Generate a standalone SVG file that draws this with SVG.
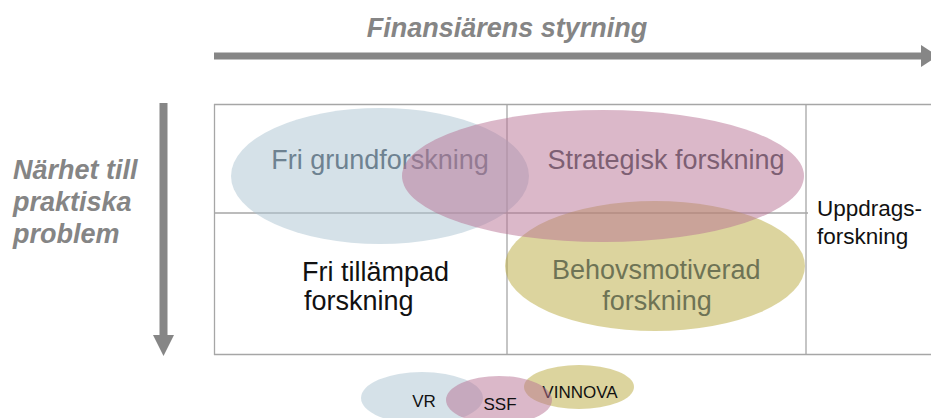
<svg xmlns="http://www.w3.org/2000/svg" width="931" height="418" viewBox="0 0 931 418">
  <style>
    .axis { fill: #868686; }
    .axislabel { font-family: "Liberation Sans", Arial, sans-serif; font-weight: bold; font-style: italic; fill: #858585; }
    .grid { stroke: #a6a6a6; stroke-width: 1.3; fill: none; }
    .blob { fill-opacity: 0.5; }
    .blue { fill: #abc3d1; }
    .pink { fill: #b77193; }
    .yellow { fill: #b9a93d; }
    .big { font-family: "Liberation Sans", Arial, sans-serif; font-size: 27px; }
    .mid { font-family: "Liberation Sans", Arial, sans-serif; font-size: 22.5px; fill: #111; }
    .small { font-family: "Liberation Sans", Arial, sans-serif; font-size: 17px; fill: #111; text-anchor: middle; }
  </style>

  <!-- axes -->
  <g id="axis-x">
    <rect class="axis" x="214" y="52.5" width="708" height="7"/>
    <polygon class="axis" points="921,45 938,56 921,67"/>
    <text class="axislabel" x="507" y="37" font-size="27" text-anchor="middle">Finansiärens styrning</text>
  </g>
  <g id="axis-y">
    <rect class="axis" x="159.5" y="103" width="8" height="233"/>
    <polygon class="axis" points="153,335 174,335 163.5,356"/>
    <text class="axislabel" font-size="27">
      <tspan x="13" y="179">Närhet till</tspan>
      <tspan x="13" y="211">praktiska</tspan>
      <tspan x="13" y="243">problem</tspan>
    </text>
  </g>

  <!-- matrix grid -->
  <g id="grid">
    <line class="grid" x1="214" y1="104.5" x2="931" y2="104.5"/>
    <line class="grid" x1="214" y1="354.5" x2="931" y2="354.5"/>
    <line class="grid" x1="214.5" y1="104" x2="214.5" y2="355"/>
    <line class="grid" x1="507" y1="104" x2="507" y2="355"/>
    <line class="grid" x1="806" y1="104" x2="806" y2="355"/>
    <line class="grid" x1="214" y1="213" x2="808" y2="213"/>
  </g>

  <g id="fri-grundforskning">
    <ellipse class="blob blue" cx="380" cy="176" rx="149" ry="68"/>
    <text class="big" x="380" y="169" text-anchor="middle" fill="#6e8291">Fri grundforskning</text>
  </g>

  <g id="behovsmotiverad-forskning">
    <ellipse class="blob yellow" cx="655" cy="266" rx="150" ry="65"/>
    <text class="big" text-anchor="middle" fill="#6e7355">
      <tspan x="660" y="279">Behovsmotiverad</tspan>
      <tspan x="657" y="310">forskning</tspan>
    </text>
  </g>

  <g id="strategisk-forskning">
    <ellipse class="blob pink" cx="603" cy="176" rx="201" ry="66"/>
    <text class="big" x="666" y="169" text-anchor="middle" fill="#7d5f73">Strategisk forskning</text>
  </g>

  <g id="fri-tillampad-forskning">
    <text class="big" fill="#111">
      <tspan x="302" y="281">Fri tillämpad</tspan>
      <tspan x="304" y="310">forskning</tspan>
    </text>
  </g>

  <g id="uppdragsforskning">
    <text class="mid">
      <tspan x="817" y="216">Uppdrags-</tspan>
      <tspan x="817" y="244">forskning</tspan>
    </text>
  </g>

  <!-- funding bodies -->
  <g id="vr">
    <ellipse class="blob blue" cx="422" cy="398" rx="61" ry="26"/>
    <text class="small" x="424" y="407">VR</text>
  </g>
  <g id="vinnova">
    <ellipse class="blob yellow" cx="579" cy="387" rx="55" ry="22"/>
    <text class="small" x="580" y="398">VINNOVA</text>
  </g>
  <g id="ssf">
    <ellipse class="blob pink" cx="499" cy="400" rx="53" ry="24"/>
    <text class="small" x="500" y="410">SSF</text>
  </g>
</svg>
